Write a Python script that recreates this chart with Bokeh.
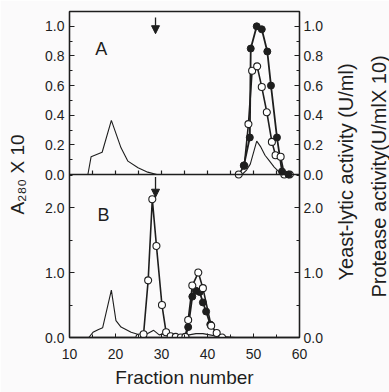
import math
from bokeh.plotting import figure
from bokeh.models import (Range1d, LinearAxis, FixedTicker, Span, Label,
                          Arrow, NormalHead)
from bokeh.embed import file_html
from bokeh.resources import INLINE

# ---------------- data ----------------
# Panel A
a280_A_x = [14.0, 14.7, 17.1, 19.1, 21.2, 22.7, 24.9, 27.0, 29.0, 31.0, 47.5,
            48.5, 49.3, 50.7, 51.5, 52.5, 53.5, 54.5, 55.5, 57.0, 58.0]
a280_A_y = [0.0, 0.12, 0.15, 0.365, 0.18, 0.09, 0.045, 0.016, 0.0, 0.0, 0.0,
            0.03, 0.07, 0.225, 0.19, 0.13, 0.09, 0.05, 0.02, 0.0, 0.0]
lytic_A_x = [47.9, 49.2, 49.4, 50.7, 51.8, 53.0, 53.8, 55.1, 56.2, 57.6]
lytic_A_y = [0.06, 0.25, 0.85, 1.0, 0.98, 0.83, 0.60, 0.25, 0.02, 0.0]
prot_A_x = [46.8, 48.0, 48.9, 49.7, 50.8, 51.8, 52.9, 54.0, 54.8, 55.9, 56.7, 57.9]
prot_A_y = [0.0, 0.06, 0.34, 0.70, 0.73, 0.59, 0.42, 0.22, 0.13, 0.12, 0.0, 0.0]

# Panel B
a280_B_x = [14.2, 15.1, 16.2, 17.2, 19.1, 20.1, 21.2, 23.4, 24.8, 26.0, 27.0,
            28.3, 29.5, 30.7, 32.0, 34.0, 36.0, 37.5, 39.0, 40.5, 42.0, 44.0,
            46.0, 58.0]
a280_B_y = [0.0, 0.08, 0.12, 0.15, 0.73, 0.26, 0.16, 0.08, 0.05, 0.04, 0.06,
            0.11, 0.04, 0.06, 0.03, 0.02, 0.04, 0.06, 0.06, 0.04, 0.02, 0.01,
            0.0, 0.0]
prot_B_x = [25.2, 26.1, 27.1, 28.0, 28.9, 30.1, 31.0, 32.0, 33.1, 34.2, 35.2,
            35.8, 36.7, 38.0, 39.0, 40.8, 42.0, 43.2]
prot_B_y = [0.0, 0.05, 0.88, 2.13, 1.41, 0.50, 0.08, 0.02, 0.01, 0.0, 0.01,
            0.27, 0.80, 1.0, 0.76, 0.18, 0.07, 0.0]
lytic_B_x = [35.2, 35.8, 36.7, 37.5, 38.3, 39.0, 39.7, 40.6]
lytic_B_y = [0.01, 0.16, 0.63, 0.72, 0.70, 0.54, 0.40, 0.20]

arrow_frac = 28.7

# ticks
frac_ticks = [10, 20, 30, 40, 50, 60]
frac_minor = [15, 25, 35, 45, 55]
a_ticks = [0.0, 0.2, 0.4, 0.6, 0.8, 1.0]
a_minor = [0.1, 0.3, 0.5, 0.7, 0.9]
b_ticks = [0.0, 1.0, 2.0]
b_minor = [0.5, 1.5, 2.5]

A_MAX = 1.1
B_MAX = 2.51

INK = "#1e1e1e"
FONT = "Liberation Sans"
BG = "#fbfafb"

# --------------- figure ---------------
p = figure(width=389, height=392, x_range=Range1d(10, 60),
           y_range=Range1d(0, 2 * B_MAX),
           x_axis_type=None, y_axis_type=None,
           output_backend="svg", toolbar_location=None,
           min_border_left=69, min_border_right=90,
           min_border_top=11, min_border_bottom=55,
           background_fill_color=BG, border_fill_color=BG)
p.extra_y_ranges = {"A": Range1d(-A_MAX, A_MAX)}
p.outline_line_color = INK
p.outline_line_width = 1.3


def a_pos(t):
    return B_MAX + t * B_MAX / A_MAX


major_pos = list(b_ticks) + [a_pos(t) for t in a_ticks]
minor_pos = list(b_minor) + [a_pos(t) for t in a_minor]
overrides = {}
for t in b_ticks:
    overrides[float(t)] = "%.1f" % t
for t in a_ticks:
    overrides[float(a_pos(t))] = "%.1f" % t


def style_axis(ax):
    ax.axis_line_color = INK
    ax.axis_line_width = 1.3
    ax.major_tick_line_color = INK
    ax.minor_tick_line_color = INK
    ax.major_tick_in = 5
    ax.major_tick_out = 0
    ax.minor_tick_in = 3
    ax.minor_tick_out = 0
    ax.major_label_text_font = FONT
    ax.major_label_text_font_size = "14px"
    ax.major_label_text_color = INK
    ax.axis_label_text_font = FONT
    ax.axis_label_text_font_size = "19px"
    ax.axis_label_text_font_style = "normal"
    ax.axis_label_text_color = INK


left = LinearAxis(ticker=FixedTicker(ticks=major_pos, minor_ticks=minor_pos),
                  major_label_overrides=overrides,
                  axis_label="A\u2082\u2088\u2080 X 10")
style_axis(left)
left.major_label_standoff = 5
left.axis_label_standoff = 14
p.add_layout(left, "left")

right = LinearAxis(ticker=FixedTicker(ticks=major_pos, minor_ticks=minor_pos),
                   major_label_overrides=dict(overrides))
style_axis(right)
right.major_label_standoff = 4
p.add_layout(right, "right")

# right-hand titles: placed in the right side panel so they are not clipped
p.add_layout(Label(x=70.0, y=B_MAX + 0.04, text="Yeast-lytic activity (U/ml)",
                   angle=math.pi / 2, text_align="center", text_baseline="middle",
                   text_font=FONT, text_font_size="20px", text_color=INK), "right")
p.add_layout(Label(x=77.3, y=B_MAX - 0.03, text="Protease activity(U/mlX 10)",
                   angle=math.pi / 2, text_align="center", text_baseline="middle",
                   text_font=FONT, text_font_size="20px", text_color=INK), "right")

bottom = LinearAxis(ticker=FixedTicker(ticks=frac_ticks, minor_ticks=frac_minor),
                    axis_label="Fraction number")
style_axis(bottom)
bottom.major_tick_in = 4
bottom.major_label_standoff = 11
bottom.axis_label_standoff = 5
p.add_layout(bottom, "below")

# separator between the panels (panel A baseline) with its inward ticks
p.add_layout(Span(location=0, dimension="width", y_range_name="A",
                  line_color=INK, line_width=1.3))
mid_ticks = sorted(frac_ticks[1:-1] + frac_minor)
tick_len = 4.0 / 148.0
p.segment(x0=mid_ticks, y0=[0.0] * len(mid_ticks), x1=mid_ticks,
          y1=[tick_len] * len(mid_ticks), y_range_name="A",
          line_color=INK, line_width=1.2)

# ---- panel A ----
p.line(a280_A_x, a280_A_y, y_range_name="A", line_color=INK, line_width=1.1)
p.line(prot_A_x, prot_A_y, y_range_name="A", line_color=INK, line_width=1.6)
p.line(lytic_A_x, lytic_A_y, y_range_name="A", line_color=INK, line_width=1.8)
p.scatter(prot_A_x, prot_A_y, y_range_name="A", marker="circle", size=7,
          fill_color="white", line_color=INK, line_width=1.1)
p.scatter(lytic_A_x, lytic_A_y, y_range_name="A", marker="circle", size=7,
          fill_color=INK, line_color=INK)

# ---- panel B ----
p.line(a280_B_x, a280_B_y, line_color=INK, line_width=1.1)
p.line(lytic_B_x, lytic_B_y, line_color=INK, line_width=1.8)
p.line(prot_B_x, prot_B_y, line_color=INK, line_width=1.6)
p.scatter(lytic_B_x, lytic_B_y, marker="circle", size=7,
          fill_color=INK, line_color=INK)
p.scatter(prot_B_x, prot_B_y, marker="circle", size=7,
          fill_color="white", line_color=INK, line_width=1.1)

# arrows
p.add_layout(Arrow(end=NormalHead(size=8, fill_color=INK, line_color=INK),
                   x_start=arrow_frac, y_start=1.06, x_end=arrow_frac, y_end=0.95,
                   y_range_name="A", line_color=INK, line_width=1.3))
p.add_layout(Arrow(end=NormalHead(size=8, fill_color=INK, line_color=INK),
                   x_start=arrow_frac, y_start=2.47, x_end=arrow_frac, y_end=2.16,
                   line_color=INK, line_width=1.3))

# panel letters
p.add_layout(Label(x=15.6, y=0.845, text="A", y_range_name="A",
                   text_font=FONT, text_font_size="18px",
                   text_color=INK, text_baseline="alphabetic"))
p.add_layout(Label(x=16.1, y=1.88, text="B",
                   text_font=FONT, text_font_size="18px",
                   text_color=INK, text_baseline="alphabetic"))

open("out.html", "w").write(file_html(p, INLINE))
